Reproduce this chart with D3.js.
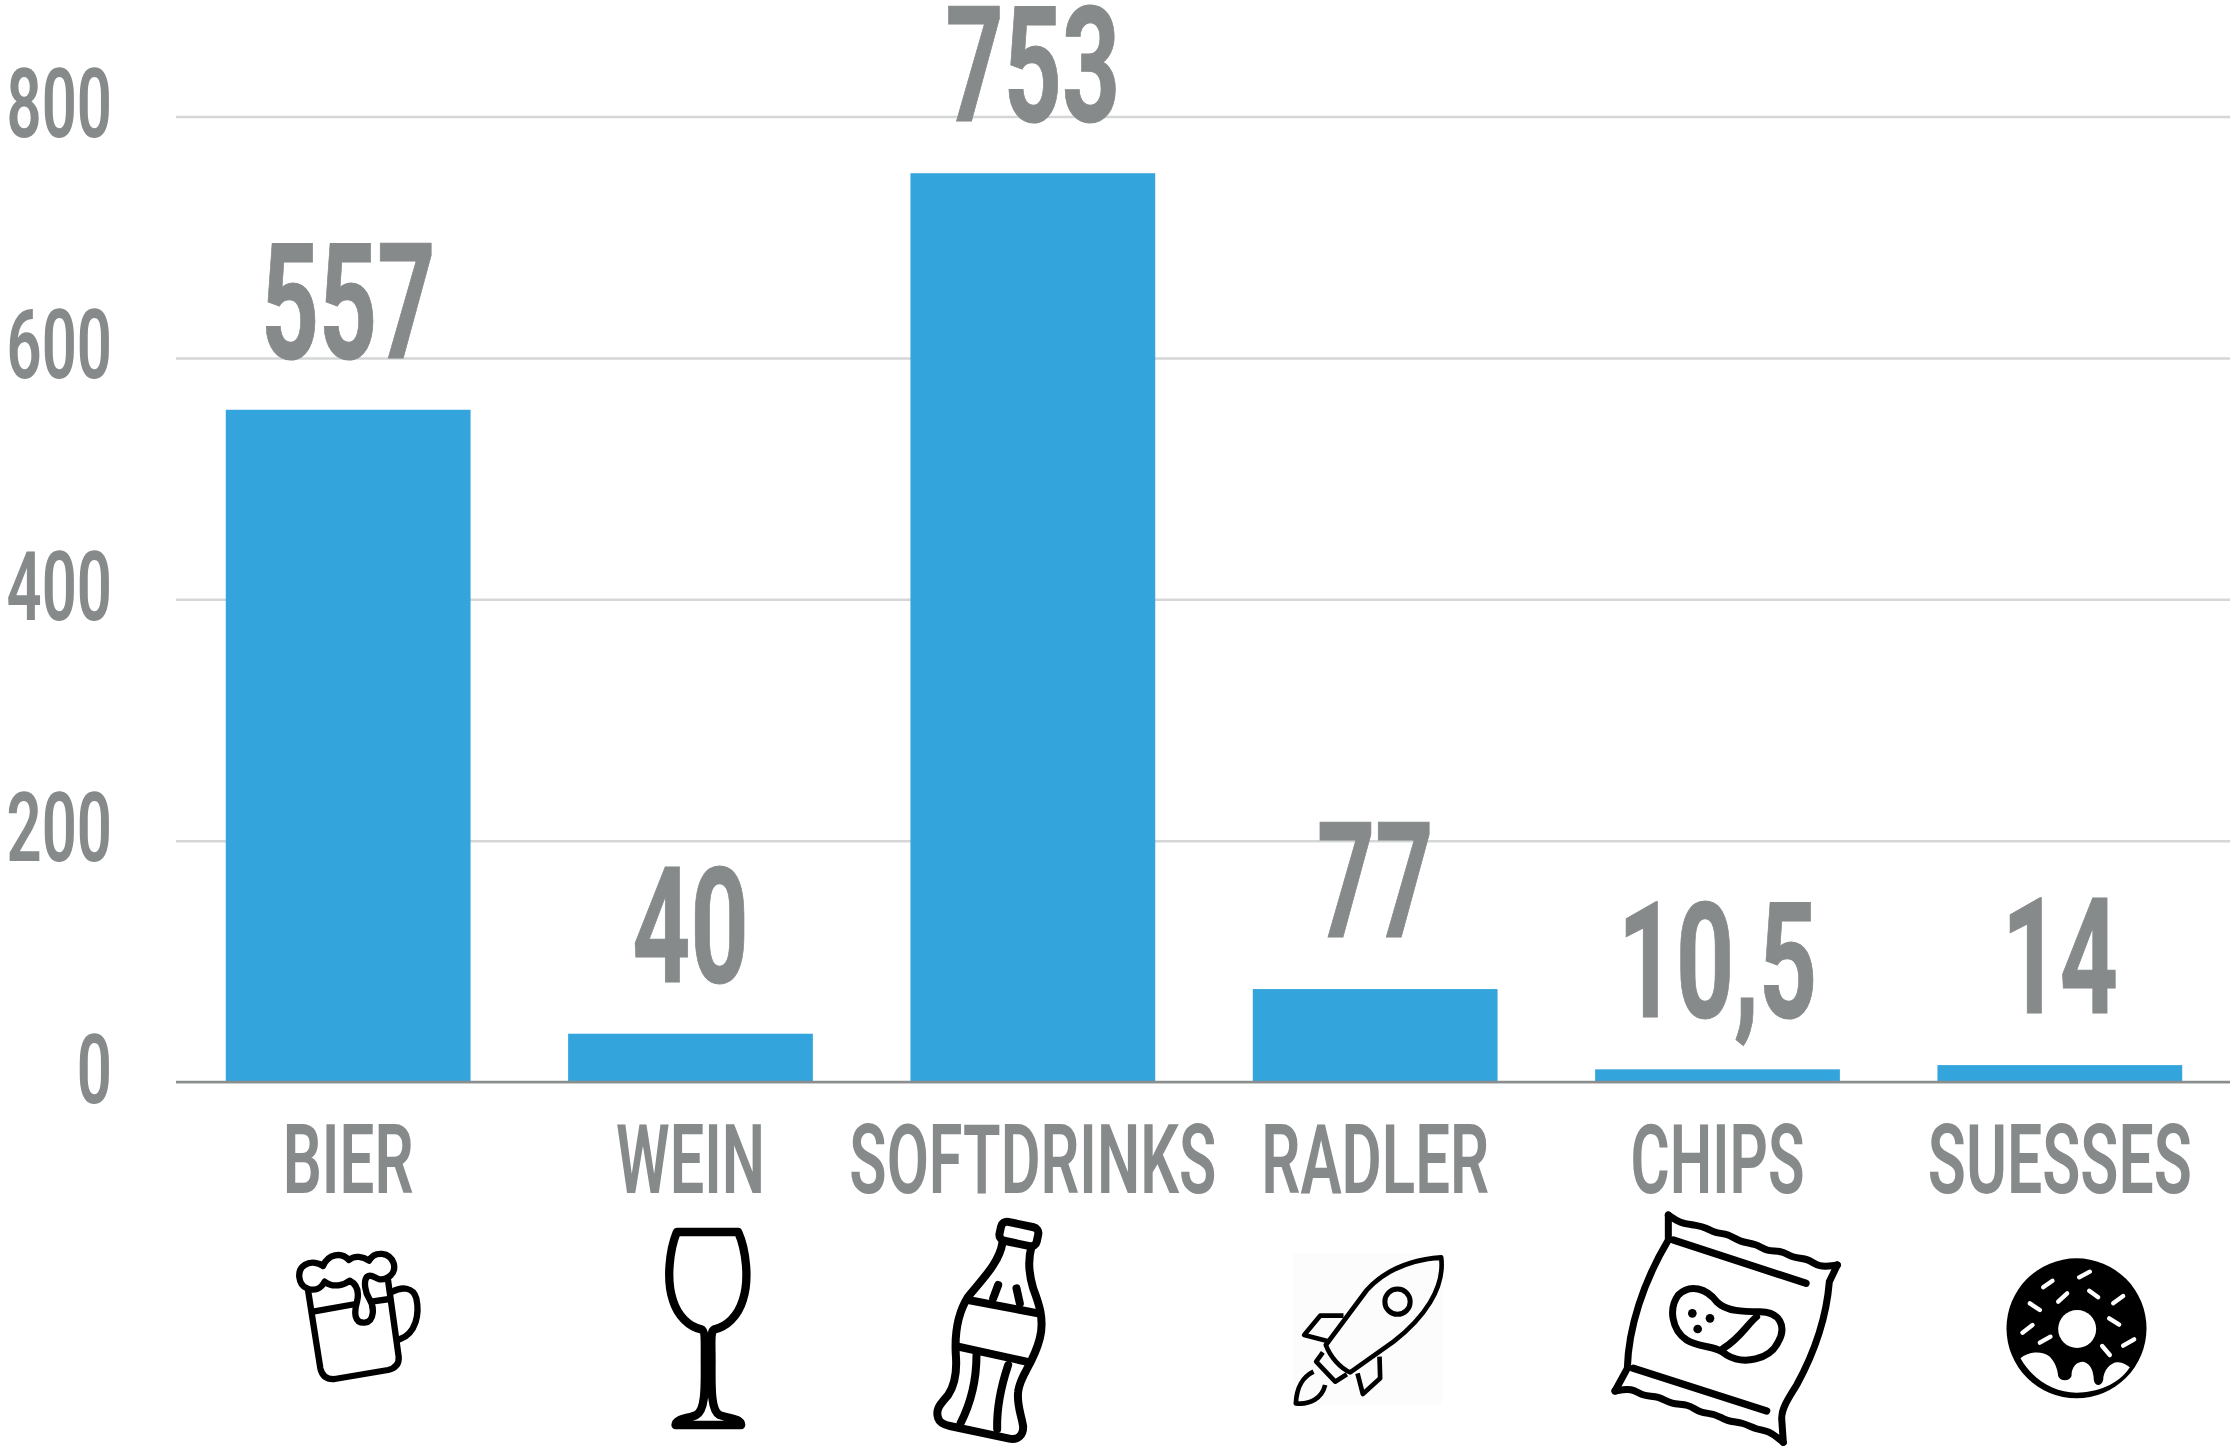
<!DOCTYPE html>
<html><head><meta charset="utf-8">
<script src="https://cdnjs.cloudflare.com/ajax/libs/d3/7.8.5/d3.min.js"></script>
<style>html,body{margin:0;padding:0;background:#fff;overflow:hidden}svg{display:block}</style>
</head><body>
<svg id="c" width="2230" height="1449"></svg>
<script>
const categories = ["BIER","WEIN","SOFTDRINKS","RADLER","CHIPS","SUESSES"];
const values = [557,40,753,77,10.5,14];
const valueLabels = ["557","40","753","77","10,5","14"];
const yTicks = [0,200,400,600,800];
const categoryLabelWidths = [131,149,367,228,174,264];

const TEXT = "#868a8a", BAR = "#34a5dc", GRID = "#d5d7d7", AXIS = "#8b8e8e";
const FONT = "Roboto, sans-serif";
const svg = d3.select("#c");
const x = d3.scaleBand().domain(categories).range([177,2231]).paddingInner(0.285).paddingOuter(0.1425);
const y = d3.scaleLinear().domain([0,800]).range([1082,116.5]);

function squeeze(sel, sx){
  sel.attr("transform", function(d,i){
    const px = this.getAttribute("x")||0, py = this.getAttribute("y")||0;
    const f = typeof sx==="function" ? sx.call(this,d,i) : sx;
    return `translate(${px},${py}) scale(${f},1)`;
  }).attr("x",0).attr("y",0);
}

// grid + y ticks
const gy = svg.append("g").attr("transform","translate(176,0)")
  .call(d3.axisLeft(y).tickValues(yTicks).tickFormat(d3.format("d")).tickSize(-(2230-176)));
gy.select(".domain").remove();
gy.selectAll("line").attr("stroke",GRID).attr("stroke-width",2.5);
gy.selectAll("text").attr("font-family",FONT).attr("font-weight",600).attr("font-size",97)
  .attr("fill",TEXT).attr("text-anchor","end").attr("dy",null).attr("x",-64).attr("y",20)
  .call(squeeze,0.635);

// bars
svg.append("g").selectAll("rect").data(categories).join("rect")
  .attr("x",d=>x(d)).attr("width",x.bandwidth())
  .attr("y",(d,i)=>y(values[i])).attr("height",(d,i)=>y(0)-y(values[i]))
  .attr("fill",BAR);

// category axis
const gx = svg.append("g").attr("transform",`translate(0,${y(0)})`)
  .call(d3.axisBottom(x).tickSize(0).tickPadding(0));
gx.select(".domain").attr("stroke",AXIS).attr("stroke-width",2.6).attr("d","M176,0H2230");
gx.selectAll("text").attr("font-family",FONT).attr("font-weight",600).attr("font-size",96)
  .attr("fill",TEXT).attr("text-anchor","middle").attr("dy",null).attr("y",111).attr("x",0)
  .call(squeeze,function(d){ return categoryLabelWidths[categories.indexOf(d)]/this.getComputedTextLength(); });

// value labels
svg.append("g").selectAll("text").data(categories).join("text")
  .text((d,i)=>valueLabels[i])
  .attr("font-family",FONT).attr("font-weight",700).attr("font-size",161).attr("fill",TEXT)
  .attr("stroke",TEXT).attr("stroke-width",1)
  .attr("text-anchor","middle")
  .attr("x",d=>x(d)+x.bandwidth()/2).attr("y",(d,i)=>y(values[i])-52)
  .call(squeeze,0.63);

const smooth = d3.line().curve(d3.curveBasis);
const bagTop = [[205,30],[205,30],[240,55],[285,60],[320,68],[345,85],[385,86],[420,112],[470,116],[500,140],[545,136],[580,160],[625,160],[655,188],[712,180],[712,180]];
const bagBottom = [[550,712],[550,712],[505,675],[470,675],[430,652],[380,650],[345,625],[300,625],[265,596],[215,600],[175,572],[130,575],[95,548],[45,558],[45,558]];

// icons, drawn in a 3x local space
const icons = {
 BIER:{dx:-68.5,y:1230,draw(g){
  const s=g.append("g").attr("fill","none").attr("stroke","#000").attr("stroke-width",19).attr("stroke-linecap","round").attr("stroke-linejoin","round");
  ["M82 175C55 165 50 120 75 105C95 92 120 100 130 108C145 72 185 65 208 90C225 75 250 80 268 92C285 62 330 65 342 100C350 130 325 150 300 148C285 145 275 130 262 140C250 155 258 190 268 205C285 230 285 275 255 278C225 280 222 250 232 215C238 190 235 165 210 152C195 165 160 175 135 155C125 175 105 185 82 175Z",
   "M85 180L122 415Q130 450 165 447L325 420Q360 412 357 380L325 150","M100 245L228 222","M275 215L330 207",
   "M338 185C365 170 400 170 410 205C420 250 410 310 360 328"].forEach(p=>s.append("path").attr("d",p));
 }},
 WEIN:{dx:-51,y:1210,draw(g){
  g.append("path").attr("fill","none").attr("stroke","#000").attr("stroke-width",25).attr("stroke-linejoin","round")
   .attr("d","M112 66L296 66C320 120 330 210 310 270C295 320 260 350 225 358C212 362 216 400 216 450C216 520 212 600 240 615C265 625 305 625 305 645L108 645C108 625 150 625 170 615C200 600 196 520 196 450C196 400 198 362 185 358C150 350 115 320 100 270C80 210 90 120 112 66Z");
 }},
 SOFTDRINKS:{dx:-113,y:1205,draw(g){
  const s=g.append("g").attr("fill","none").attr("stroke","#000").attr("stroke-width",24).attr("stroke-linecap","round").attr("stroke-linejoin","round");
  s.append("rect").attr("x",240).attr("y",58).attr("width",114).attr("height",58).attr("rx",18).attr("transform","rotate(12 297 88)");
  ["M248 112C240 170 190 220 145 275C110 330 105 400 108 450C112 500 105 540 85 570C65 595 45 610 55 640C60 655 75 660 90 663L265 700C295 708 310 690 310 665C305 630 290 600 295 560C300 510 340 480 360 400C375 340 355 290 340 250C325 200 325 160 335 125",
   "M145 285L355 325","M115 425L330 472","M220 280L235 240","M300 295L290 250",
   "M170 450C170 530 150 600 122 655","M265 480C245 540 230 600 232 672"].forEach(p=>s.append("path").attr("d",p));
 }},
 RADLER:{dx:-95,y:1245,draw(g){
  g.append("rect").attr("x",39).attr("y",24).attr("width",447).attr("height",456).attr("fill","#fcfcfc");
  const s=g.append("g").attr("fill","none").attr("stroke","#000").attr("stroke-width",14).attr("stroke-linejoin","round");
  s.append("circle").attr("cx",352).attr("cy",170).attr("r",38).attr("stroke-width",15);
  ["M483 37C380 45 310 80 260 135L137 300C150 335 180 370 210 382L340 290C430 220 495 130 483 37Z",
   "M190 212L120 212L72 270L150 290","M298 335L300 400L248 447L232 385",
   "M128 322L108 350L165 410L200 388","M100 380C70 395 50 420 47 475C90 480 125 460 135 420"].forEach(p=>s.append("path").attr("d",p));
 }},
 CHIPS:{dx:-117.5,y:1205,draw(g){
  const s=g.append("g").attr("fill","none").attr("stroke","#000").attr("stroke-width",21).attr("stroke-linejoin","miter").attr("stroke-linecap","round");
  s.append("path").attr("d",smooth(bagTop));
  s.append("path").attr("d",smooth(bagBottom));
  ["M205 30L205 105C130 230 85 370 82 490L45 558","M712 180L688 230C680 330 650 430 590 540C565 580 545 610 545 640L550 712"].forEach(p=>s.append("path").attr("d",p));
  ["M235 270C270 235 320 250 350 290C380 320 430 320 480 320C540 320 560 365 535 410C510 465 430 480 380 450C350 420 300 430 260 405C215 375 205 310 235 270Z",
   "M470 335C440 360 420 400 370 430"].forEach(p=>s.append("path").attr("d",p).attr("stroke-linejoin","round"));
  ["M220 105L618 235","M100 490L500 618"].forEach(p=>s.append("path").attr("d",p).attr("stroke-width",22));
  [[277,325],[330,340],[293,372]].forEach(c=>g.append("circle").attr("cx",c[0]).attr("cy",c[1]).attr("r",13).attr("fill","#000"));
 }},
 SUESSES:{dx:-70,y:1250,draw(g){
  g.append("circle").attr("cx",260).attr("cy",235).attr("r",210).attr("fill","#000");
  g.append("circle").attr("cx",262).attr("cy",237).attr("r",57).attr("fill","#fff");
  g.append("path").attr("fill","#fff").attr("d","M92 325C115 305 155 300 180 320C200 340 205 370 205 378C210 395 240 395 245 378C245 350 260 335 280 335C305 340 312 370 312 390C315 410 335 410 340 390C340 360 365 335 385 337C400 338 410 345 420 352C385 405 320 428 260 428C190 428 125 385 92 325Z");
  [[160,112,188,92],[268,82,300,65],[298,122,325,142],[370,160,400,138],[120,160,150,180],[205,155,232,130],[358,205,388,224],[98,248,128,225],[150,278,182,260],[337,288,360,315],[400,287,433,268]]
   .forEach(l=>g.append("line").attr("x1",l[0]).attr("y1",l[1]).attr("x2",l[2]).attr("y2",l[3]).attr("stroke","#fff").attr("stroke-width",13).attr("stroke-linecap","round"));
 }}
};
categories.forEach(c=>{
  const ic=icons[c];
  const g=svg.append("g").attr("transform",`translate(${x(c)+x.bandwidth()/2+ic.dx},${ic.y}) scale(${1/3})`);
  ic.draw(g);
});
</script>
</body></html>
